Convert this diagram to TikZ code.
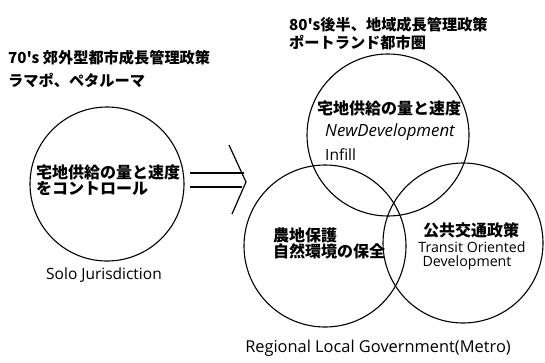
\documentclass[tikz,border=0pt]{standalone}
\usepackage{fontspec}
\setmainfont{Open Sans}
\newfontfamily\jp{Noto Sans CJK JP}
\begin{document}
\begin{tikzpicture}[x=1pt,y=-1pt,
  ring/.style={draw, circle, line width=1.1pt, inner sep=0pt},
  jtxt/.style={font=\jp\bfseries\fontsize{16}{18}\selectfont, inner sep=0pt, anchor=west},
  ttxt/.style={font=\jp\bfseries\fontsize{15.2}{17}\selectfont, inner sep=0pt, anchor=west},
  etxt/.style={font=\fontsize{15.5}{17}\selectfont, inner sep=0pt},
  stxt/.style={font=\fontsize{14.2}{16}\selectfont, inner sep=0pt},
  stroke/.style={line width=1.2pt}]
\useasboundingbox (0,0) rectangle (545,362);
% circles
\node[ring, minimum size=154pt] (solo) at (107,184) {};
\node[ring, minimum size=162pt] (top) at (388,135) {};
\node[ring, minimum size=162pt] (bl) at (325,246) {};
\node[ring, minimum size=160pt] (br) at (463,243) {};
% titles
\node[ttxt] (t70a) at (8,58) {70's 郊外型都市成長管理政策};
\node[ttxt] (t70b) at (8,80) {ラマポ、ペタルーマ};
\node[ttxt] (t80a) at (289,25) {80's後半、地域成長管理政策};
\node[ttxt] (t80b) at (289,43) {ポートランド都市圏};
% left circle text
\node[jtxt] (sa) at (36,172) {宅地供給の量と速度};
\node[jtxt] (sb) at (36,188) {をコントロール};
\node[etxt] (solol) at (104,275) {Solo Jurisdiction};
% top circle text
\node[etxt, anchor=west, font=\fontsize{16.8}{18}\selectfont\itshape] (tb) at (325,132) {NewDevelopment};
\node[jtxt] (ta) at (317,108) {宅地供給の量と速度};
\node[etxt, anchor=west] (tc) at (325,155) {Infill};
% bottom-left text
\node[jtxt] (la) at (273,235) {農地保護};
\node[jtxt] (lb) at (273,251) {自然環境の保全};
% bottom-right text
\node[jtxt, anchor=center] (ra) at (471,230) {公共交通政策};
\node[stxt] (rb) at (472,247) {Transit Oriented};
\node[stxt] (rc) at (467,263) {Development};
% bottom label
\node[etxt, font=\fontsize{16.4}{18}\selectfont] (metro) at (378,348) {Regional Local Government(Metro)};
% arrow
\coordinate (a1s) at (190,173); \coordinate (a1e) at (244,173);
\coordinate (a2s) at (190,187); \coordinate (a2e) at (242,187);
\coordinate (ch1) at (229,145); \coordinate (ch2) at (246,182); \coordinate (ch3) at (232,214);
\draw[stroke] (a1s) -- (a1e);
\draw[stroke] (a2s) -- (a2e);
\draw[stroke] (ch1) -- (ch2) -- (ch3);
\end{tikzpicture}
\end{document}
